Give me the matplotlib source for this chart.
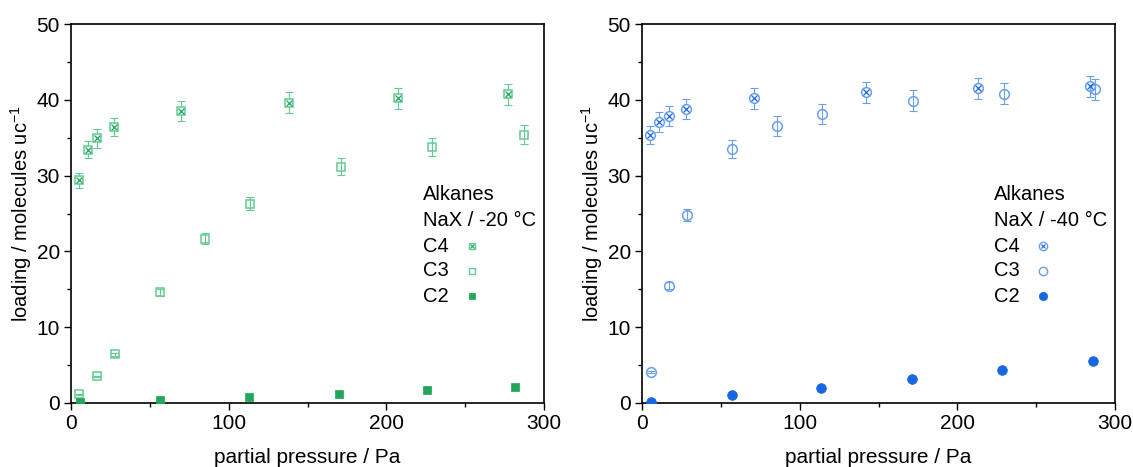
import matplotlib
matplotlib.use("Agg")
import matplotlib.pyplot as plt
from matplotlib.ticker import MultipleLocator

plt.rcParams['font.family'] = ['Liberation Sans', 'DejaVu Sans']
plt.rcParams['mathtext.default'] = 'regular'

# ---------- data: NaX / -20 °C ----------
p20_c4 = [5.3, 10.6, 16.3, 27.3, 69.8, 138.4, 207.6, 277.3]
l20_c4 = [29.4, 33.4, 34.9, 36.4, 38.5, 39.6, 40.2, 40.7]
e20_c4 = [1.0, 1.1, 1.2, 1.2, 1.3, 1.4, 1.4, 1.4]

p20_c3 = [5.3, 16.7, 28.1, 56.4, 85.0, 113.5, 171.2, 229.1, 287.5]
l20_c3 = [1.15, 3.5, 6.4, 14.6, 21.7, 26.3, 31.2, 33.8, 35.4]
e20_c3 = [0.05, 0.12, 0.22, 0.5, 0.75, 0.9, 1.1, 1.2, 1.25]

p20_c2 = [5.7, 56.4, 112.9, 169.7, 225.5, 281.5]
l20_c2 = [0.15, 0.4, 0.8, 1.2, 1.7, 2.1]

# ---------- data: NaX / -40 °C ----------
p40_c4 = [5.1, 11.0, 16.9, 27.9, 71.0, 142.2, 213.2, 284.1]
l40_c4 = [35.4, 37.1, 37.9, 38.8, 40.2, 41.0, 41.5, 41.8]
e40_c4 = [1.2, 1.3, 1.3, 1.3, 1.4, 1.4, 1.4, 1.4]

p40_c3 = [5.5, 16.9, 28.3, 56.9, 85.6, 114.4, 171.9, 229.6, 287.3]
l40_c3 = [4.1, 15.5, 24.8, 33.5, 36.5, 38.1, 39.9, 40.8, 41.4]
e40_c3 = [0.15, 0.5, 0.85, 1.2, 1.3, 1.3, 1.35, 1.4, 1.4]

p40_c2 = [5.5, 56.9, 113.4, 171.2, 228.1, 285.8]
l40_c2 = [0.13, 1.0, 2.0, 3.2, 4.3, 5.5]

legend_labels = ["C4", "C3", "C2"]
titles = ["NaX / -20 °C", "NaX / -40 °C"]

green_light = "#62cd92"
green_dark = "#22a65c"
blue_light = "#6a9ff0"
blue_dark = "#1867e0"

FS = 14.5

fig = plt.figure(figsize=(11.33, 4.67), dpi=100)
axL = fig.add_axes([71 / 1133, 64 / 467, 473 / 1133, 379 / 467])
axR = fig.add_axes([642 / 1133, 64 / 467, 473 / 1133, 379 / 467])


def style(ax):
    ax.set_xlim(0, 300)
    ax.set_ylim(0, 50)
    ax.xaxis.set_major_locator(MultipleLocator(100))
    ax.xaxis.set_minor_locator(MultipleLocator(50))
    ax.yaxis.set_major_locator(MultipleLocator(10))
    ax.yaxis.set_minor_locator(MultipleLocator(5))
    ax.tick_params(which='major', direction='out', length=5, width=1.0,
                   labelsize=15, pad=3, top=False, right=False)
    ax.tick_params(which='minor', direction='out', length=3, width=1.0,
                   top=False, right=False)
    for s in ax.spines.values():
        s.set_linewidth(1.2)
    ax.set_xlabel("partial pressure / Pa", fontsize=15, labelpad=11)
    ax.set_ylabel("loading / molecules uc$^{-1}$", fontsize=FS, labelpad=1.5)


def draw(ax, shape, light, dark, pc4, lc4, ec4, pc3, lc3, ec3, pc2, lc2, title):
    ms = 6.2 if shape == 's' else 7
    ax.errorbar(pc4, lc4, yerr=ec4, fmt='none', ecolor=light, elinewidth=0.8,
                capsize=3, capthick=0.8, zorder=2)
    ax.plot(pc4, lc4, linestyle='none', marker=shape, ms=ms, mfc='white',
            mec=light, mew=1.1, zorder=3)
    ax.plot(pc4, lc4, linestyle='none', marker='x', ms=ms * 0.6, mec=dark,
            mew=0.9, zorder=4)
    ax.errorbar(pc3, lc3, yerr=ec3, fmt='none', ecolor=light, elinewidth=0.8,
                capsize=3, capthick=0.8, zorder=2)
    ax.plot(pc3, lc3, linestyle='none', marker=shape, ms=ms, mfc='none',
            mec=light, mew=1.1, zorder=3)
    ax.plot(pc2, lc2, linestyle='none', marker=shape, ms=ms, mfc=dark,
            mec=dark, mew=0.5, zorder=3)

    # legend block
    tx = ax.transAxes
    x_text = (423 - 71) / 473 if shape == 's' else (994 - 642) / 473
    x_mark = (472 - 71) / 473 if shape == 's' else (1043 - 642) / 473
    ys = [(403 - 195) / 379, (403 - 220) / 379]
    ax.text(x_text, ys[0], "Alkanes", transform=tx, fontsize=FS,
            va='center', ha='left')
    ax.text(x_text, ys[1], title, transform=tx, fontsize=FS,
            va='center', ha='left')
    yl = [(403 - 246) / 379, (403 - 271) / 379, (403 - 296) / 379]
    for lab, y in zip(legend_labels, yl):
        ax.text(x_text, y, lab, transform=tx, fontsize=FS, va='center',
                ha='left')
    lms = 5 if shape == 's' else 6
    ax.plot([x_mark], [yl[0]], transform=tx, marker=shape, ms=lms, mfc='white',
            mec=light, mew=1.0, clip_on=False)
    ax.plot([x_mark], [yl[0]], transform=tx, marker='x', ms=lms * 0.6,
            mec=dark, mew=0.8, clip_on=False)
    ax.plot([x_mark], [yl[1]], transform=tx, marker=shape, ms=lms, mfc='white',
            mec=light, mew=1.0, clip_on=False)
    ax.plot([x_mark], [yl[2]], transform=tx, marker=shape, ms=lms, mfc=dark,
            mec=dark, mew=0.5, clip_on=False)


style(axL)
style(axR)
draw(axL, 's', green_light, green_dark, p20_c4, l20_c4, e20_c4,
     p20_c3, l20_c3, e20_c3, p20_c2, l20_c2, titles[0])
draw(axR, 'o', blue_light, blue_dark, p40_c4, l40_c4, e40_c4,
     p40_c3, l40_c3, e40_c3, p40_c2, l40_c2, titles[1])

fig.savefig("out.png", dpi=100)
